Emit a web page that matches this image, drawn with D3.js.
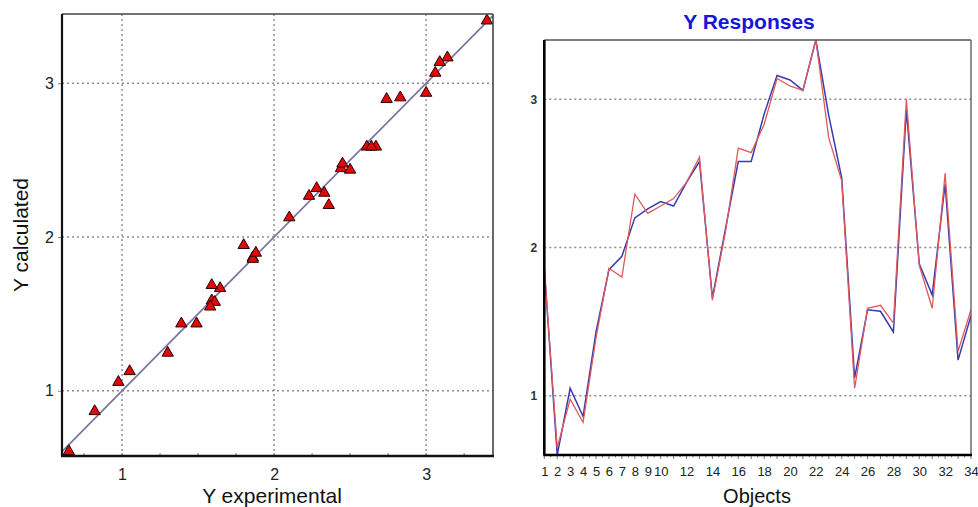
<!DOCTYPE html>
<html><head><meta charset="utf-8">
<script src="https://cdn.jsdelivr.net/npm/d3@7"></script>
<style>
html,body{margin:0;padding:0;background:#fff;}
svg{display:block;font-family:"Liberation Sans",Arial,sans-serif;}
</style></head>
<body>
<svg id="c" width="978" height="507"></svg>
<script>
// ---- data ----
const objects = d3.range(1, 35);
const yExperimental = [1.86,0.65,0.976,0.82,1.39,1.86,1.80,2.36,2.23,2.28,2.33,2.44,2.61,1.645,2.10,2.67,2.64,2.83,3.14,3.09,3.06,3.40,2.74,2.45,1.05,1.59,1.61,1.49,3.00,1.88,1.59,2.50,1.30,1.58];
const yCalculated   = [1.86,0.60,1.05,0.86,1.43,1.85,1.94,2.20,2.26,2.31,2.28,2.44,2.58,1.66,2.12,2.58,2.58,2.90,3.16,3.13,3.06,3.40,2.89,2.47,1.12,1.58,1.57,1.43,2.93,1.89,1.68,2.43,1.24,1.54];
const leftTicks = [1, 2, 3];
const rightYTicks = [1, 2, 3];
const rightXTickLabels = [1,2,3,4,5,6,7,8,9,10,12,14,16,18,20,22,24,26,28,30,32,34];

const svg = d3.select("#c");

// ---- left scatter ----
const L = {x0:62, x1:493, y0:14, y1:456};
const lx = d3.scaleLinear().domain([0.605, 3.44]).range([L.x0, L.x1]);
const ly = d3.scaleLinear().domain([0.576, 3.45]).range([L.y1, L.y0]);
const gl = svg.append("g");

// grid
gl.selectAll(".vg").data(leftTicks).join("line")
  .attr("x1", d=>lx(d)).attr("x2", d=>lx(d)).attr("y1", L.y0).attr("y2", L.y1)
  .attr("stroke", "#8c8c8c").attr("stroke-width", 1.4).attr("stroke-dasharray", "2,3");
gl.selectAll(".hg").data(leftTicks).join("line")
  .attr("y1", d=>ly(d)).attr("y2", d=>ly(d)).attr("x1", L.x0).attr("x2", L.x1)
  .attr("stroke", "#8c8c8c").attr("stroke-width", 1.4).attr("stroke-dasharray", "2,3");

// axes
const lxAxis = d3.axisBottom(lx).tickValues(leftTicks).tickSize(0).tickPadding(13).tickFormat(d3.format("d"));
const lxA = gl.append("g").attr("transform", `translate(0,${L.y1})`).call(lxAxis);
lxA.select(".domain").remove();
lxA.selectAll("text").attr("font-size", 16).attr("fill", "#222").attr("font-family", "Liberation Sans, Arial");
const lyAxis = d3.axisLeft(ly).tickValues(leftTicks).tickSize(4).tickPadding(4).tickFormat(d3.format("d"));
const lyA = gl.append("g").attr("transform", `translate(${L.x0},0)`).call(lyAxis);
lyA.select(".domain").remove();
lyA.selectAll("line").attr("stroke", "#888");
lyA.selectAll("text").attr("font-size", 16).attr("fill", "#222").attr("font-family", "Liberation Sans, Arial");

// minor ticks along bottom (inside)
gl.selectAll(".mt").data(d3.range(0.75, 3.44, 0.25)).join("line")
  .attr("x1", d=>lx(d)).attr("x2", d=>lx(d)).attr("y1", L.y1).attr("y2", L.y1-3)
  .attr("stroke", "#777").attr("stroke-width", 1);

// diagonal
const dStart = Math.max(lx.domain()[0], ly.domain()[0]);
const dEnd = Math.min(lx.domain()[1], ly.domain()[1]);
gl.append("line")
  .attr("x1", lx(dStart)).attr("y1", ly(dStart)).attr("x2", lx(dEnd)).attr("y2", ly(dEnd))
  .attr("stroke", "#7676a0").attr("stroke-width", 1.7);

// points
const tri = d3.symbol().type(d3.symbolTriangle).size(56);
gl.selectAll(".pt").data(objects.map((o,i)=>({x:yExperimental[i], y:yCalculated[i]}))).join("path")
  .attr("d", tri)
  .attr("transform", d=>`translate(${lx(d.x)},${ly(d.y)-1})`)
  .attr("fill", "#e00808").attr("stroke", "#2a0000").attr("stroke-width", 1);

// frame
gl.append("line").attr("x1",L.x0).attr("x2",L.x1).attr("y1",L.y0).attr("y2",L.y0).attr("stroke","#444").attr("stroke-width",1.6);
gl.append("line").attr("x1",L.x1).attr("x2",L.x1).attr("y1",L.y0).attr("y2",L.y1).attr("stroke","#444").attr("stroke-width",1.6);
gl.append("line").attr("x1",L.x0).attr("x2",L.x0).attr("y1",L.y0).attr("y2",L.y1).attr("stroke","#111").attr("stroke-width",2.2);
gl.append("line").attr("x1",L.x0-1).attr("x2",L.x1+1).attr("y1",L.y1).attr("y2",L.y1).attr("stroke","#111").attr("stroke-width",2.6);

// labels
gl.append("text").attr("x", 272).attr("y", 503).attr("text-anchor","middle")
  .attr("font-size", 21).attr("fill","#111").text("Y experimental");
gl.append("text").attr("transform", "translate(28,235) rotate(-90)").attr("text-anchor","middle")
  .attr("font-size", 21).attr("fill","#111").text("Y calculated");

// ---- right line chart ----
const R = {x0:544.3, x1:971, y0:40, y1:455};
const rx = d3.scaleLinear().domain([1, 34]).range([R.x0, R.x1]);
const ry = d3.scaleLinear().domain([0.6, 3.4]).range([R.y1, R.y0]);
const gr = svg.append("g");

gr.selectAll(".hg").data(rightYTicks).join("line")
  .attr("y1", d=>ry(d)).attr("y2", d=>ry(d)).attr("x1", R.x0).attr("x2", R.x1)
  .attr("stroke", "#8c8c8c").attr("stroke-width", 1.4).attr("stroke-dasharray", "2,3");

const clip = gr.append("clipPath").attr("id","rc").append("rect")
  .attr("x", R.x0).attr("y", R.y0).attr("width", R.x1-R.x0).attr("height", R.y1-R.y0);

const line = d3.line().x((d,i)=>rx(objects[i])).y(d=>ry(d));
gr.append("path").datum(yCalculated).attr("d", line).attr("clip-path","url(#rc)")
  .attr("fill","none").attr("stroke","#3a3ab0").attr("stroke-width",1.5);
gr.append("path").datum(yExperimental).attr("d", line).attr("clip-path","url(#rc)")
  .attr("fill","none").attr("stroke","#e05a5a").attr("stroke-width",1.3);

// y axis
const ryAxis = d3.axisLeft(ry).tickValues(rightYTicks).tickSize(0).tickPadding(7).tickFormat(d3.format("d"));
const ryA = gr.append("g").attr("transform", `translate(${R.x0},0)`).call(ryAxis);
ryA.select(".domain").remove();
ryA.selectAll("text").attr("font-size", 12).attr("font-weight","bold").attr("fill","#333");

// x axis minor ticks
gr.selectAll(".xm").data(d3.range(1, 34.01, 0.5)).join("line")
  .attr("x1", d=>rx(d)).attr("x2", d=>rx(d)).attr("y1", R.y1).attr("y2", d=> R.y1 + (Number.isInteger(d)?4:2.5))
  .attr("stroke","#777").attr("stroke-width",1);
const rxAxis = d3.axisBottom(rx).tickValues(rightXTickLabels).tickSize(0).tickPadding(12).tickFormat(d3.format("d"));
const rxA = gr.append("g").attr("transform", `translate(0,${R.y1})`).call(rxAxis);
rxA.select(".domain").remove();
rxA.selectAll("text").attr("font-size", 13).attr("fill","#222");

// frame
gr.append("line").attr("x1",R.x0).attr("x2",R.x1).attr("y1",R.y0).attr("y2",R.y0).attr("stroke","#555").attr("stroke-width",1.3);
gr.append("line").attr("x1",R.x1).attr("x2",R.x1).attr("y1",R.y0).attr("y2",R.y1).attr("stroke","#555").attr("stroke-width",1.3);
gr.append("line").attr("x1",R.x0).attr("x2",R.x0).attr("y1",R.y0).attr("y2",R.y1).attr("stroke","#000").attr("stroke-width",2.6);
gr.append("line").attr("x1",R.x0-1).attr("x2",R.x1+1).attr("y1",R.y1).attr("y2",R.y1).attr("stroke","#000").attr("stroke-width",2.6);

gr.append("text").attr("x", 749).attr("y", 29).attr("text-anchor","middle")
  .attr("font-size", 21).attr("font-weight","bold").attr("fill","#1616d8").text("Y Responses");
gr.append("text").attr("x", 757).attr("y", 503).attr("text-anchor","middle")
  .attr("font-size", 20).attr("fill","#111").text("Objects");
</script>
</body></html>
